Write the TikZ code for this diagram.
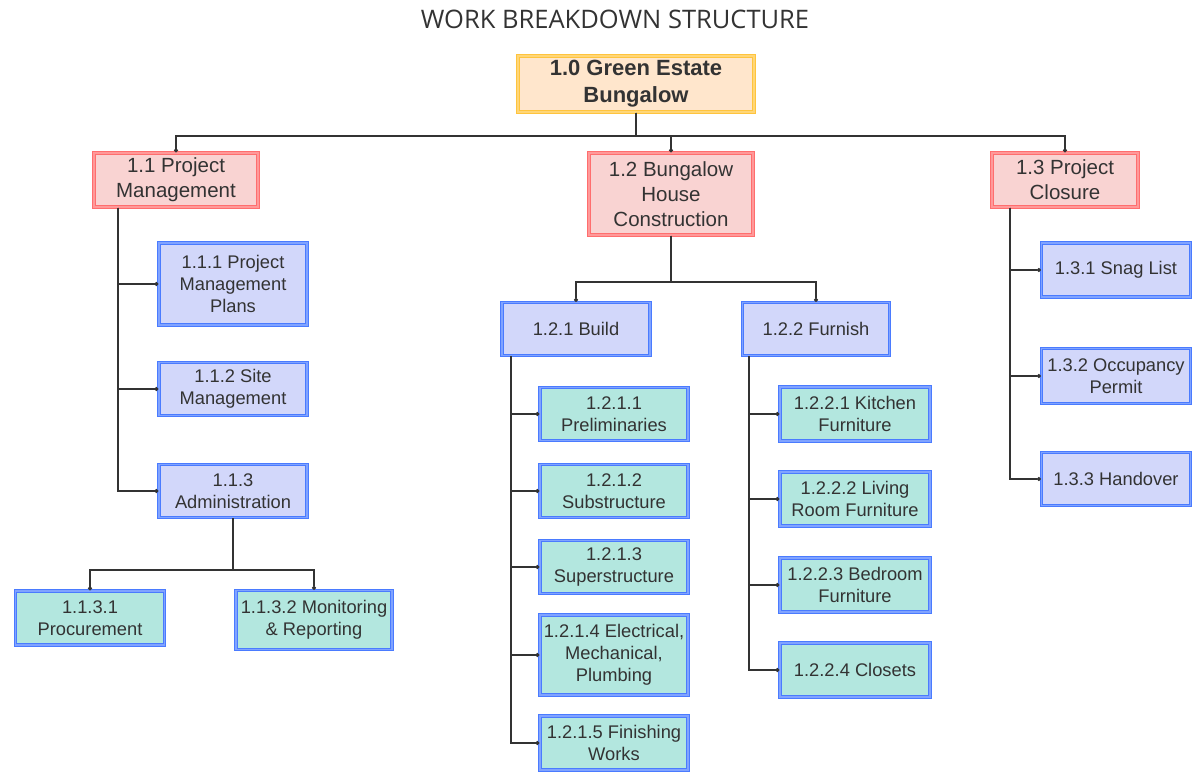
\documentclass[tikz,border=0pt]{standalone}
\usepackage{fontspec}
\setmainfont{Liberation Sans}
\newfontfamily\titlefont{Open Sans}
\usetikzlibrary{arrows.meta}
\definecolor{txt}{HTML}{333333}
\definecolor{rootfill}{HTML}{FFE6CC}
\definecolor{rootdraw}{HTML}{FFC43D}
\definecolor{pinkfill}{HTML}{F9D3D2}
\definecolor{pinkdraw}{HTML}{FF6E6E}
\definecolor{bluefill}{HTML}{D2D7FA}
\definecolor{bluedraw}{HTML}{4A7BFF}
\definecolor{tealfill}{HTML}{B3E7DF}
\begin{document}
\begin{tikzpicture}[x=1bp,y=-1bp,
  box/.style={rectangle, line width=1.2bp, double distance=1.2bp, align=center,
    text=txt, inner sep=1bp},
  rootbox/.style={box, draw=rootdraw, double=rootdraw!70!white, fill=rootfill,
    font=\fontsize{22bp}{27bp}\selectfont\bfseries},
  phasebox/.style={box, draw=pinkdraw, double=pinkdraw!70!white, fill=pinkfill,
    font=\fontsize{20.5bp}{25bp}\selectfont},
  workbox/.style={box, draw=bluedraw, double=bluedraw!70!white, fill=bluefill,
    font=\fontsize{18.3bp}{22bp}\selectfont},
  taskbox/.style={box, draw=bluedraw, double=bluedraw!70!white, fill=tealfill,
    font=\fontsize{18.3bp}{22bp}\selectfont},
  sz/.style 2 args={minimum width=#1bp, minimum height=#2bp},
  conn/.style={draw=txt, line width=1.1bp, -{Circle[length=4bp,width=4bp]}}
]
\useasboundingbox (0,0) rectangle (1195,773);

% title
\node[text=txt, font=\titlefont\fontsize{25.5bp}{30bp}\selectfont] (title) at (615,19) {WORK BREAKDOWN STRUCTURE};

% level 1
\node[rootbox, sz={236}{56}] (root) at (636,84) {1.0 Green Estate\\Bungalow};

% level 2
\node[phasebox, sz={164}{54}] (n11) at (176,180) {1.1 Project\\Management};
\node[phasebox, sz={164}{82}] (n12) at (671,194) {1.2 Bungalow\\House\\Construction};
\node[phasebox, sz={146}{54}] (n13) at (1065,180) {1.3 Project\\Closure};

% level 3 under 1.1
\node[workbox, sz={148}{82}] (n111) at (233,284) {1.1.1 Project\\Management\\Plans};
\node[workbox, sz={148}{53}] (n112) at (233,389) {1.1.2 Site\\Management};
\node[workbox, sz={148}{53}] (n113) at (233,491) {1.1.3\\Administration};
\node[taskbox, sz={149}{54}] (n1131) at (90,618) {1.1.3.1\\Procurement};
\node[taskbox, sz={156}{59}] (n1132) at (314,620) {1.1.3.2 Monitoring\\\& Reporting};

% level 3 under 1.2
\node[workbox, sz={148}{53}] (n121) at (576,329) {1.2.1 Build};
\node[workbox, sz={147}{53}] (n122) at (816,329) {1.2.2 Furnish};

\node[taskbox, sz={148}{53}] (n1211) at (614,414) {1.2.1.1\\Preliminaries};
\node[taskbox, sz={148}{53}] (n1212) at (614,491) {1.2.1.2\\Substructure};
\node[taskbox, sz={148}{53}] (n1213) at (614,567) {1.2.1.3\\Superstructure};
\node[taskbox, sz={148}{80}] (n1214) at (614,655) {1.2.1.4 Electrical,\\Mechanical,\\Plumbing};
\node[taskbox, sz={148}{54}] (n1215) at (614,743) {1.2.1.5 Finishing\\Works};

\node[taskbox, sz={150}{54}] (n1221) at (855,414) {1.2.2.1 Kitchen\\Furniture};
\node[taskbox, sz={150}{54}] (n1222) at (855,499) {1.2.2.2 Living\\Room Furniture};
\node[taskbox, sz={150}{54}] (n1223) at (855,585) {1.2.2.3 Bedroom\\Furniture};
\node[taskbox, sz={150}{54}] (n1224) at (855,670) {1.2.2.4 Closets};

% level 3 under 1.3
\node[workbox, sz={149}{54}] (n131) at (1116,270) {1.3.1 Snag List};
\node[workbox, sz={149}{55}] (n132) at (1116,376) {1.3.2 Occupancy\\Permit};
\node[workbox, sz={149}{53}] (n133) at (1116,479) {1.3.3 Handover};

% bus lines and trunks
\coordinate (bus0) at (0,136);
\coordinate (bus113) at (0,570);
\coordinate (bus12) at (0,282);
\coordinate (t11) at (118,0);
\coordinate (t121) at (511,0);
\coordinate (t122) at (749,0);
\coordinate (t13) at (1010,0);

% root to phases
\draw[conn] (root.south) -- (root.south |- bus0) -| (n11.north);
\draw[conn] (root.south) -- (root.south |- bus0) -| (n12.north);
\draw[conn] (root.south) -- (root.south |- bus0) -| (n13.north);

% 1.1 branch
\draw[conn] (n11.south -| t11) |- (n111.west);
\draw[conn] (n11.south -| t11) |- (n112.west);
\draw[conn] (n11.south -| t11) |- (n113.west);
\draw[conn] (n113.south) -- (n113.south |- bus113) -| (n1131.north);
\draw[conn] (n113.south) -- (n113.south |- bus113) -| (n1132.north);

% 1.2 branch
\draw[conn] (n12.south) -- (n12.south |- bus12) -| (n121.north);
\draw[conn] (n12.south) -- (n12.south |- bus12) -| (n122.north);
\foreach \c in {n1211,n1212,n1213,n1214,n1215}
  \draw[conn] (n121.south -| t121) |- (\c.west);
\foreach \c in {n1221,n1222,n1223,n1224}
  \draw[conn] (n122.south -| t122) |- (\c.west);

% 1.3 branch
\foreach \c in {n131,n132,n133}
  \draw[conn] (n13.south -| t13) |- (\c.west);
\end{tikzpicture}
\end{document}
